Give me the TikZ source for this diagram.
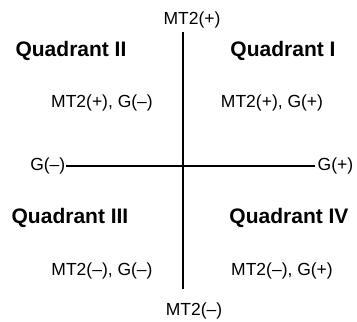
\documentclass[tikz,border=0pt]{standalone}
\usepackage{fontspec}
\setmainfont{Liberation Sans}
\begin{document}
\begin{tikzpicture}[x=1pt,y=-1pt,
		lbl/.style={font=\fontsize{17.5}{20}\selectfont, inner sep=0.5pt},
		quad/.style={font=\fontsize{21}{24}\selectfont\bfseries, inner sep=0pt}]
		\useasboundingbox (0,0) rectangle (357,322);

		\node[lbl] (mtpos) at (192,20) {MT2(+)};
		\node[lbl] (mtneg) at (194,311) {MT2(--)};
		\node[lbl, anchor=east] (gneg) at (66,166) {G(--)};
		\node[lbl, anchor=west, inner sep=2.5pt] (gpos) at (315,166) {G(+)};

		\coordinate (top) at (183,32);
		\coordinate (bot) at (183,289);

		\node[quad] (q2) at (71,51) {Quadrant II};
		\node[quad] (q1) at (283,51) {Quadrant I};
		\node[quad] (q3) at (70,218) {Quadrant III};
		\node[quad] (q4) at (289,218) {Quadrant IV};

		\node[lbl] (s2) at (102,103) {MT2(+), G(--)};
		\node[lbl] (s1) at (272,103) {MT2(+), G(+)};
		\node[lbl] (s3) at (102,271) {MT2(--), G(--)};
		\node[lbl] (s4) at (282,271) {MT2(--), G(+)};

		\draw[line width=2.5pt] (top) -- (bot);
		\draw[line width=2.5pt] (gneg.east) -- (gpos.west);
	\end{tikzpicture}
\end{document}
